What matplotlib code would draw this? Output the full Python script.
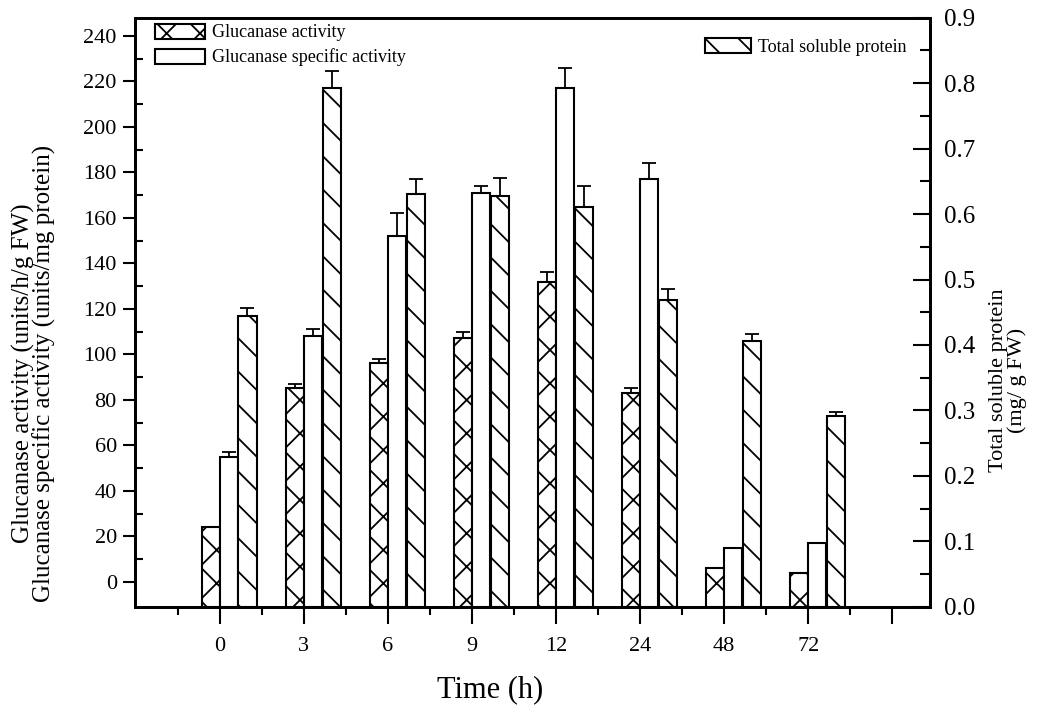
import matplotlib
matplotlib.use("Agg")
import matplotlib.pyplot as plt
import numpy as np
from matplotlib.patches import Patch

plt.rcParams['font.family'] = ['Liberation Serif', 'DejaVu Serif']
plt.rcParams['hatch.linewidth'] = 1.3

times = ['0', '3', '6', '9', '12', '24', '48', '72']
activity = [24, 85, 96, 107, 132, 83, 6, 4]
activity_err = [0, 2, 2, 3, 4, 2, 0, 0]
specific = [55, 108, 152, 171, 217, 177, 15, 17]
specific_err = [2, 3, 10, 3, 9, 7, 0, 0]
protein = [0.445, 0.792, 0.631, 0.627, 0.611, 0.468, 0.406, 0.292]
protein_err = [0.012, 0.027, 0.023, 0.028, 0.032, 0.018, 0.011, 0.006]

ylo, yhi = -11, 248
x = np.arange(len(times))
w = 0.215

fig = plt.figure(figsize=(10.37, 7.08), dpi=100)
ax = fig.add_axes([0.130, 0.143, 0.767, 0.832])
ax2 = ax.twinx()

act = np.array(activity, dtype=float)
spe = np.array(specific, dtype=float)
ax.bar(x - 0.108, act - ylo, w, bottom=ylo, color='white', edgecolor='black',
       linewidth=1.5, hatch='x', zorder=2)
ax.bar(x + 0.107, spe - ylo, w, bottom=ylo, color='white', edgecolor='black',
       linewidth=1.5, zorder=2)
ax.errorbar(x - 0.108, act, yerr=[np.zeros(len(x)), activity_err], fmt='none',
            ecolor='black', elinewidth=1.3, capsize=5, capthick=1.3, zorder=3)
ax.errorbar(x + 0.107, spe, yerr=[np.zeros(len(x)), specific_err], fmt='none',
            ecolor='black', elinewidth=1.3, capsize=5, capthick=1.3, zorder=3)

ax2.bar(x + 0.33, protein, w, color='white', edgecolor='black',
        linewidth=1.5, hatch='\\', zorder=2)
ax2.errorbar(x + 0.33, protein, yerr=[np.zeros(len(x)), protein_err], fmt='none',
             ecolor='black', elinewidth=1.3, capsize=5, capthick=1.3, zorder=3)

ax.set_xlim(-1.01, 8.45)
ax.set_ylim(ylo, yhi)
ax2.set_ylim(0, 0.9)

ax.set_xticks(list(x) + [8])
ax.set_xticklabels(times + [''])
ax.set_xticks(np.arange(-0.5, 8, 1.0), minor=True)
ax.tick_params(axis='x', which='major', direction='out', length=12, width=1.5,
               pad=10, labelsize=16)
ax.tick_params(axis='x', which='minor', direction='out', length=6, width=1.5)

ax.set_yticks(np.arange(0, 241, 20))
ax.set_yticks(np.arange(10, 241, 20), minor=True)
ax.tick_params(axis='y', which='major', direction='out', length=9, width=1.5,
               labelsize=16, pad=4)
ax.tick_params(axis='y', which='minor', direction='in', length=6, width=1.5)

ax2.set_yticks(np.arange(0, 0.91, 0.1))
ax2.set_yticklabels(['%.1f' % v for v in np.arange(0, 0.91, 0.1)])
ax2.set_yticks(np.arange(0.05, 0.9, 0.1), minor=True)
ax2.tick_params(axis='y', which='major', direction='in', length=12, width=1.5,
                labelsize=18, pad=10)
ax2.tick_params(axis='y', which='minor', direction='in', length=7, width=1.5)

for a in (ax, ax2):
    for s in a.spines.values():
        s.set_linewidth(2)

fig.text(34 / 1037, 1 - 373 / 708,
         'Glucanase activity (units/h/g FW)\nGlucanase specific activity (units/mg protein)',
         rotation=90, ha='center', va='center', multialignment='center',
         fontsize=18, linespacing=0.9)
fig.text(1008 / 1037, 1 - 380 / 708, 'Total soluble protein\n(mg/ g FW)',
         rotation=90, ha='center', va='center', multialignment='center',
         fontsize=16, linespacing=1.0)
fig.text(490 / 1037, 1 - 690 / 708, 'Time (h)', ha='center', va='center',
         fontsize=22)

h1 = [Patch(facecolor='white', edgecolor='black', hatch='x', linewidth=1.5),
      Patch(facecolor='white', edgecolor='black', linewidth=1.5)]
leg1 = ax2.legend(h1, ['Glucanase activity', 'Glucanase specific activity'],
                  loc='upper left', bbox_to_anchor=(0.025, 0.99), frameon=False,
                  fontsize=13, handlelength=2.8, handleheight=0.9,
                  handletextpad=0.4, labelspacing=0.4, borderpad=0,
                  borderaxespad=0)
ax2.add_artist(leg1)
h2 = [Patch(facecolor='white', edgecolor='black', hatch='\\', linewidth=1.5)]
ax2.legend(h2, ['Total soluble protein'], loc='upper right',
           bbox_to_anchor=(0.97, 0.965), frameon=False, fontsize=13,
           handlelength=2.5, handleheight=0.9, handletextpad=0.4,
           borderpad=0, borderaxespad=0)

fig.savefig('out.png', dpi=100, facecolor='white')
